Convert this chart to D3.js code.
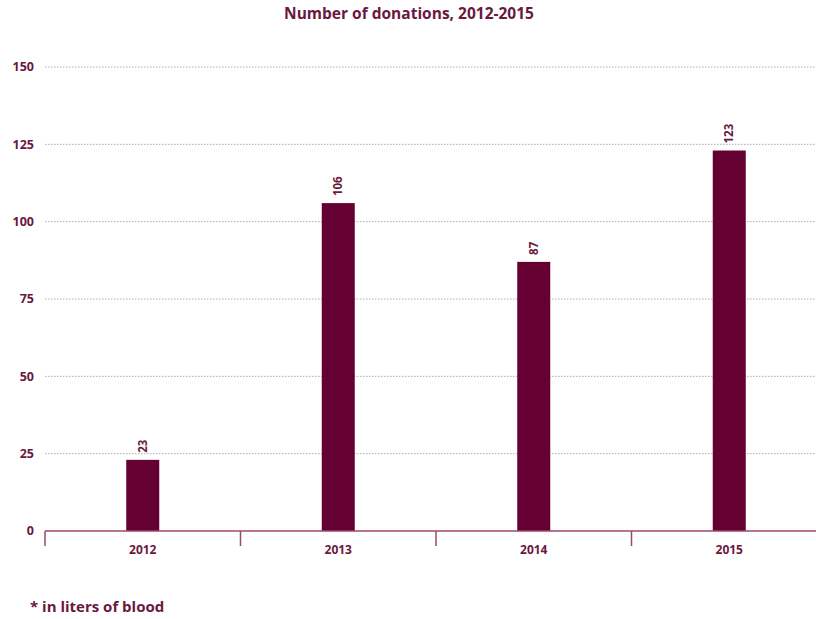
<!DOCTYPE html>
<html><head><meta charset="utf-8">
<script src="https://cdn.jsdelivr.net/npm/d3@7"></script>
<style>body{margin:0;background:#fff;} svg{display:block;font-family:"Open Sans",Lato,sans-serif;}</style>
</head><body>
<svg id="chart" width="816" height="619"></svg>
<script>
const categories = ["2012", "2013", "2014", "2015"];
const values = [23, 106, 87, 123];
const yTicks = [0, 25, 50, 75, 100, 125, 150];
const title = "Number of donations, 2012-2015";
const footnote = "* in liters of blood";

const svg = d3.select("#chart");
const dark = "#650033", textC = "#6a1840", axisC = "#9b4a6a";
const x0 = 45, x1 = 827, yTop = 67, yBase = 531;

const x = d3.scaleBand().domain(categories).range([x0, x1]);
const y = d3.scaleLinear().domain([0, 150]).range([yBase, yTop]);

svg.append("text").attr("x", 409).attr("y", 19).attr("text-anchor", "middle")
  .attr("font-size", 15.5).attr("font-weight", 700).attr("fill", textC).text(title);

// grid
svg.append("g").selectAll("line").data(yTicks.filter(d => d > 0)).join("line")
  .attr("x1", x0).attr("x2", 816).attr("y1", d => y(d)).attr("y2", d => y(d))
  .attr("stroke", "#b0a8ac").attr("stroke-width", 1).attr("stroke-dasharray", "1.5,1.5");

// y labels
svg.append("g").selectAll("text").data(yTicks).join("text")
  .attr("x", 34).attr("y", d => y(d)).attr("dy", "0.35em").attr("text-anchor", "end")
  .attr("font-size", 12.5).attr("font-weight", 700).attr("fill", textC).text(d => d);

// bars
const bw = 33;
svg.append("g").selectAll("rect").data(values).join("rect")
  .attr("x", (d, i) => x(categories[i]) + x.bandwidth() / 2 - bw / 2)
  .attr("width", bw)
  .attr("y", d => y(d)).attr("height", d => yBase - y(d)).attr("fill", dark);

// value labels
svg.append("g").selectAll("text").data(values).join("text")
  .attr("transform", (d, i) => `translate(${x(categories[i]) + x.bandwidth() / 2 + 4},${y(d) - 7}) rotate(-90)`)
  .attr("font-size", 11.5).attr("font-weight", 700).attr("fill", textC).text(d => d);

// x axis
const xAxis = d3.axisBottom(x).tickSize(0).tickPadding(14);
const gx = svg.append("g").attr("transform", `translate(0,${yBase})`).call(xAxis);
gx.select(".domain").attr("stroke", axisC).attr("stroke-width", 1.5).attr("d", `M${x0},0H${x1}`);
gx.selectAll(".tick text").attr("font-size", 12).attr("font-weight", 700).attr("fill", textC)
  .attr("font-family", '"Open Sans",Lato,sans-serif');
// band boundary ticks
svg.append("g").selectAll("line").data(categories).join("line")
  .attr("x1", d => x(d)).attr("x2", d => x(d)).attr("y1", yBase).attr("y2", yBase + 15)
  .attr("stroke", axisC).attr("stroke-width", 1.5);

svg.append("text").attr("x", 30).attr("y", 612).attr("font-size", 15).attr("font-weight", 700)
  .attr("fill", textC).text(footnote);
</script>
</body></html>
